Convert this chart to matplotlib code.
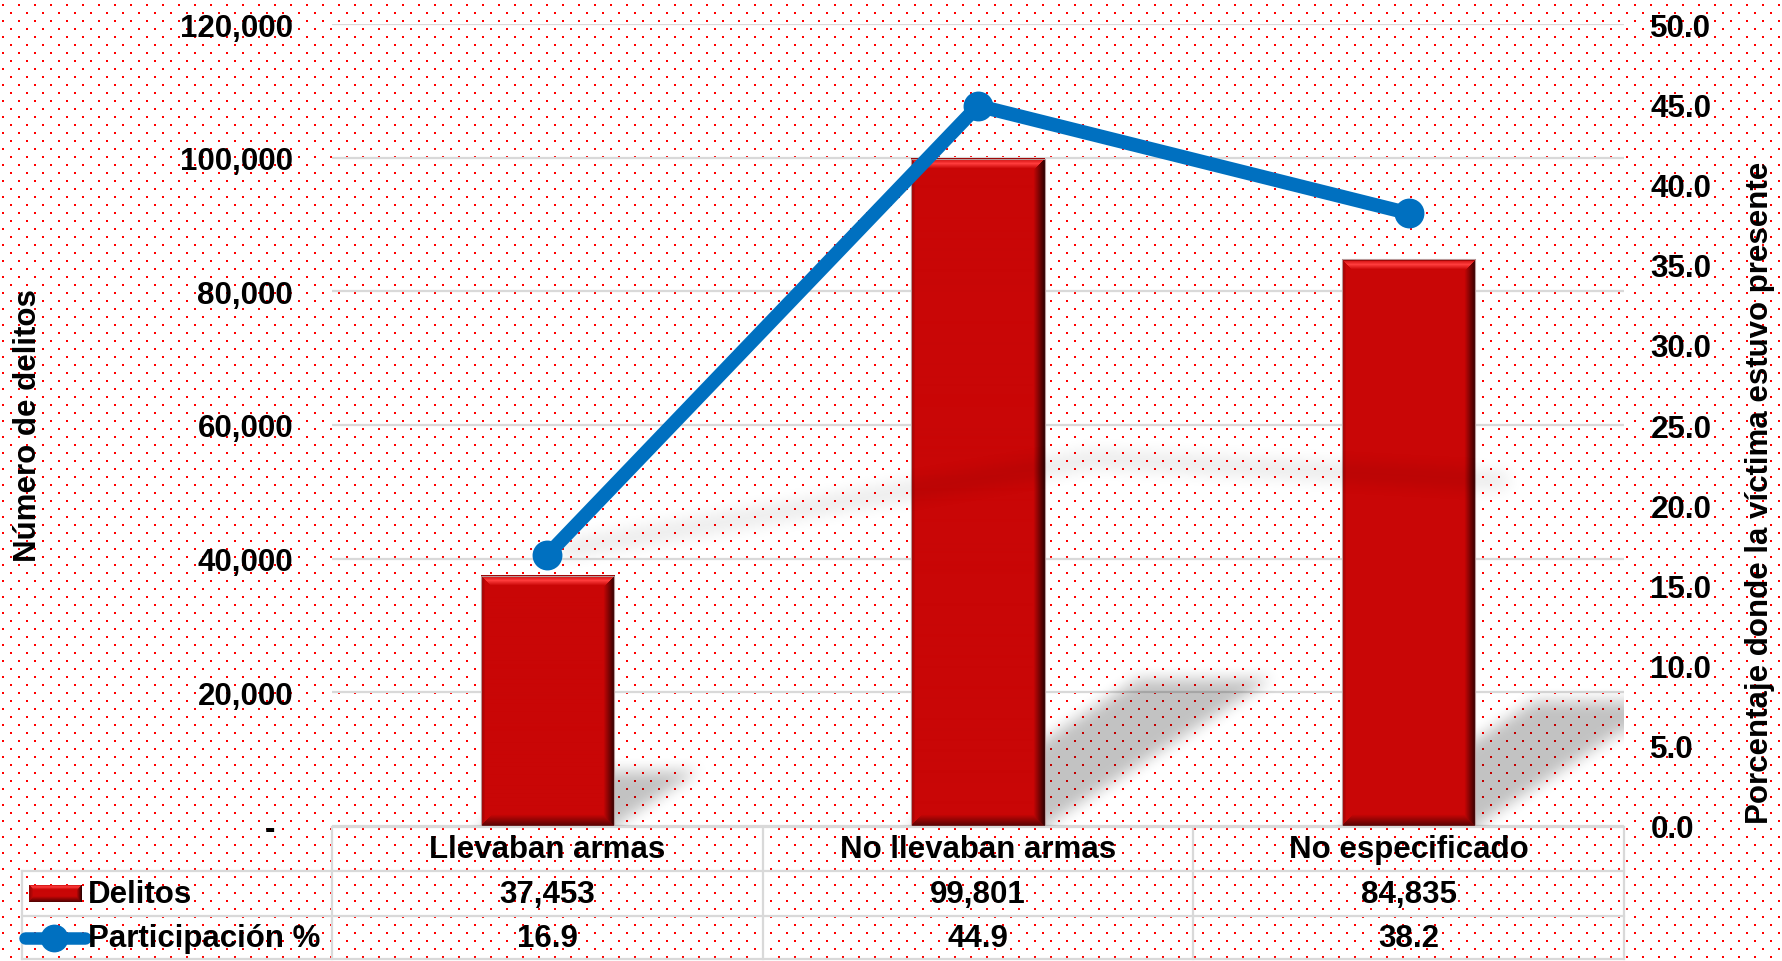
import numpy as np
import matplotlib
matplotlib.use("Agg")
import matplotlib.pyplot as plt
from matplotlib.path import Path
from matplotlib.lines import Line2D
from matplotlib.patches import Rectangle

# =========================
# DATA
# =========================
categorias = ["Llevaban armas", "No llevaban armas", "No especificado"]
delitos = [37453, 99801, 84835]
participacion = [16.9, 44.9, 38.2]
yticks_left = [0, 20000, 40000, 60000, 80000, 100000, 120000]
yticks_right = [0, 5, 10, 15, 20, 25, 30, 35, 40, 45, 50]

# =========================
# SETTINGS
# =========================
W, H = 1783, 962
DPI = 100
FONT = "Liberation Sans"
FS = 22.5
RED = "#C90606"
BLUE = "#0070C0"
GRID = "#D9D9D9"

plt.rcParams["font.family"] = [FONT, "DejaVu Sans"]
plt.rcParams["font.weight"] = "bold"

# plot area in pixels (from top-left)
AX_L, AX_R, AX_T, AX_B = 332, 1624, 25, 827
AXW, AXH = AX_R - AX_L, AX_B - AX_T
BAR_W = 0.31


def fx(px):
    return px / W


def fy(py):
    return 1 - py / H


def box_blur(a, r):
    for axis in (0, 1):
        pw = [(0, 0), (0, 0)]
        pw[axis] = (r + 1, r)
        p = np.pad(a, pw, mode="edge")
        c = np.cumsum(p, axis=axis)
        n = a.shape[axis]
        hi = np.take(c, np.arange(2 * r + 1, 2 * r + 1 + n), axis=axis)
        lo = np.take(c, np.arange(0, n), axis=axis)
        a = (hi - lo) / (2 * r + 1)
    return a


def bevel_img(wp, hp, bev=11):
    base = np.array(matplotlib.colors.to_rgb(RED))
    img = np.ones((hp, wp, 3)) * base
    rr, cc = np.mgrid[0:hp, 0:wp]
    dt, db, dl, dr = rr, hp - 1 - rr, cc, wp - 1 - cc
    d = np.stack([dt, dr, db, dl])
    which = np.argmin(d, axis=0)
    dmin = d.min(axis=0).astype(float)
    t = np.clip(dmin / bev, 0, 1)
    # top: dark rim then highlight
    top = np.where(t[..., None] < 0.15, np.array([0.62, 0.0, 0.0]),
                   base + (np.array([1.0, 0.24, 0.24]) - base) * np.clip(1 - np.abs(t - 0.45) / 0.45, 0, 1)[..., None])
    right = base * (0.25 + 0.75 * t[..., None])
    bottom = base * (0.45 + 0.55 * t[..., None])
    left = base * (0.75 + 0.25 * np.clip(dmin / 4, 0, 1)[..., None])
    for k, col in enumerate([top, right, bottom, left]):
        m = (which == k) & (dmin < bev)
        img[m] = col[m]
    return np.clip(img, 0, 1)


fig = plt.figure(figsize=(W / DPI, H / DPI), dpi=DPI)

# dotted background
bg = np.ones((H, W, 3))
for k, y in enumerate(range(5, H, 8)):
    off = 2 + 8 * (k % 2)
    for x in range(off, W, 16):
        bg[y:y + 2, x:x + 2] = [1.0, 0.0, 0.0]
bgax = fig.add_axes([0, 0, 1, 1], zorder=-5)
bgax.imshow(bg, aspect="auto", interpolation="nearest")
bgax.axis("off")

ax = fig.add_axes([fx(AX_L), fy(AX_B), AXW / W, AXH / H])
ax.patch.set_visible(False)
ax.set_xlim(-0.5, 2.5)
ax.set_ylim(0, 120000)
x = np.arange(len(categorias))

# gridlines
for v in yticks_left:
    ax.axhline(v, color=GRID, lw=1.6, zorder=0.5)

# pixel grid of the plot area for shadows
rows, cols = np.mgrid[0:AXH, 0:AXW]
px_x = cols + 0.5
px_y = AXH - rows - 0.5
pts = np.column_stack([px_x.ravel(), px_y.ravel()])


def to_px(xd, yd, ymax):
    return (xd + 0.5) * AXW / 3, yd / ymax * AXH


# bar shadows (skewed, blurred)
mask = np.zeros(AXH * AXW)
for i, h in enumerate(delitos):
    x0, x1 = i - BAR_W / 2, i + BAR_W / 2
    dx = 0.632 * h / 120000
    dy = 0.22 * h
    poly = [(x0, 0), (x1, 0), (x1 + dx, dy), (x0 + dx, dy)]
    pp = [to_px(a, b, 120000) for a, b in poly]
    mask = np.maximum(mask, Path(pp).contains_points(pts).astype(float))
mask = box_blur(mask.reshape(AXH, AXW), 9)
mask = box_blur(mask, 6)
sh = np.zeros((AXH, AXW, 4))
sh[..., 3] = mask * 0.24
ax.imshow(sh, extent=(-0.5, 2.5, 0, 120000), aspect="auto", zorder=1, interpolation="bilinear")

# bars with bevel
for i, h in enumerate(delitos):
    x0, x1 = i - BAR_W / 2, i + BAR_W / 2
    wp = int(round(BAR_W * AXW / 3))
    hp = int(round(h / 120000 * AXH))
    ax.imshow(bevel_img(wp, hp), extent=(x0, x1, 0, h), aspect="auto", zorder=2, interpolation="bilinear")
    ax.add_patch(Rectangle((x0, 0), BAR_W, h, fill=False, ec="#B89A9A", lw=0.8, zorder=2.1))

# faint shadow of the line
sx = [i + 0.008 * v - 0.09 for i, v in enumerate(participacion)]
sy = [13.9 + 0.2 * v for v in participacion]
spx = [to_px(a, b, 50) for a, b in zip(sx, sy)]
dist = np.full(AXH * AXW, 1e9)
for (ax0, ay0), (ax1, ay1) in zip(spx[:-1], spx[1:]):
    vx, vy = ax1 - ax0, ay1 - ay0
    tt = np.clip(((pts[:, 0] - ax0) * vx + (pts[:, 1] - ay0) * vy) / (vx * vx + vy * vy), 0, 1)
    d = np.hypot(pts[:, 0] - (ax0 + tt * vx), pts[:, 1] - (ay0 + tt * vy))
    dist = np.minimum(dist, d)
lm = np.clip(8 - dist, 0, 1).reshape(AXH, AXW)
lm = box_blur(box_blur(lm, 10), 8)
lsh = np.zeros((AXH, AXW, 4))
lsh[..., 3] = np.clip(lm * 0.10, 0, 1)
ax.imshow(lsh, extent=(-0.5, 2.5, 0, 120000), aspect="auto", zorder=3, interpolation="bilinear")

ax.set_xlim(-0.5, 2.5)
ax.set_ylim(0, 120000)
ax.set_xticks([])
ax.set_yticks(yticks_left)
ax.set_yticklabels(["-  " if v == 0 else f"{v:,}" for v in yticks_left], fontsize=FS, fontweight="bold")
ax.tick_params(axis="y", length=0, pad=28)
for s in ax.spines.values():
    s.set_visible(False)

# secondary axis: line
ax2 = ax.twinx()
ax2.patch.set_visible(False)
ax2.set_ylim(0, 50)
ax2.plot(x, participacion, color=BLUE, lw=10, marker="o", ms=20, mew=1.5, mec=BLUE,
         solid_capstyle="round", solid_joinstyle="round", zorder=5)
ax2.set_yticks(yticks_right)
ax2.set_yticklabels([f"{v:.1f}" for v in yticks_right], fontsize=FS, fontweight="bold")
ax2.tick_params(axis="y", length=0, pad=19)
for s in ax2.spines.values():
    s.set_visible(False)
ax2.set_xlim(-0.5, 2.5)

# axis titles
fig.text(fx(28), fy(426), "Número de delitos", rotation=90, ha="center", va="center",
         fontsize=FS, fontweight="bold")
fig.text(fx(1760), fy(493), "Porcentaje donde la víctima estuvo presente", rotation=90,
         ha="center", va="center", fontsize=FS, fontweight="bold")

# data table
col_px = [AX_L + k * AXW / 3 for k in range(4)]
tlines = [
    ([AX_L, AX_R], [828, 828]),
    ([22, AX_R], [872, 872]),
    ([22, AX_R], [917, 917]),
    ([22, AX_R], [960, 960]),
    ([22, 22], [872, 960]),
]
for c in col_px:
    tlines.append(([c, c], [828, 960]))
for xs, ys in tlines:
    fig.add_artist(Line2D([fx(v) for v in xs], [fy(v) for v in ys], color=GRID, lw=1.6,
                          transform=fig.transFigure, zorder=1))

for i, cat in enumerate(categorias):
    cx = fx(AX_L + (i + 0.5) * AXW / 3)
    fig.text(cx, fy(850), cat, ha="center", va="center", fontsize=FS, fontweight="bold")
    fig.text(cx, fy(895), f"{delitos[i]:,}", ha="center", va="center", fontsize=FS, fontweight="bold")
    fig.text(cx, fy(939), f"{participacion[i]:.1f}", ha="center", va="center", fontsize=FS, fontweight="bold")

# legend keys
kax = fig.add_axes([fx(29), fy(903), 53 / W, 17 / H])
kax.imshow(bevel_img(53, 17, bev=5), aspect="auto", interpolation="bilinear")
kax.axis("off")
fig.text(fx(88), fy(895), "Delitos", ha="left", va="center", fontsize=FS, fontweight="bold")
fig.add_artist(Line2D([fx(25), fx(85)], [fy(939), fy(939)], color=BLUE, lw=9,
                      solid_capstyle="round", transform=fig.transFigure))
fig.add_artist(Line2D([fx(54)], [fy(939)], color=BLUE, marker="o", ms=19, lw=0,
                      transform=fig.transFigure))
fig.text(fx(88), fy(939), "Participación %", ha="left", va="center", fontsize=FS, fontweight="bold")

fig.savefig("out.png", dpi=DPI)
